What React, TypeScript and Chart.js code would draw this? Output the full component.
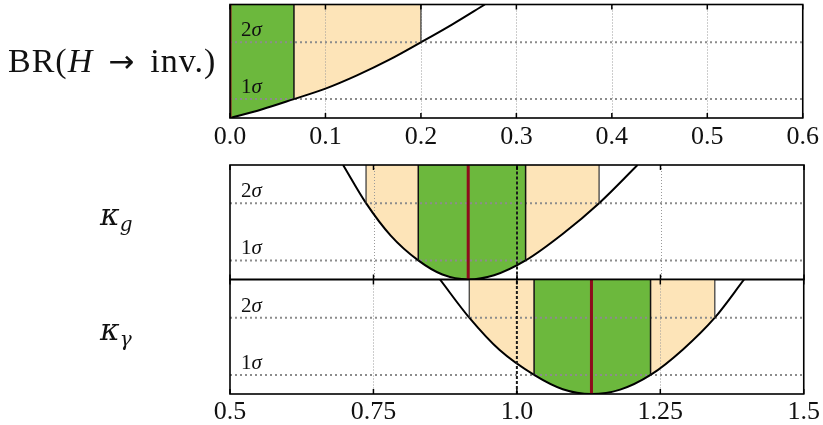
import React, { useEffect, useRef } from 'react';
import { Chart, registerables } from 'chart.js';

Chart.register(...registerables);

// ---------- data ----------
const Y_MAX = 6;
const SIGMA_LEVELS = [1, 4];
const SIGMA_NUMS = ['1', '2'];
const SIGMA_SYMBOL = 'σ';

const BR_TICKS = [0, 0.1, 0.2, 0.3, 0.4, 0.5, 0.6];
const BR_TICK_LABELS = ['0.0', '0.1', '0.2', '0.3', '0.4', '0.5', '0.6'];
const BR_X = [0, 0.033, 0.067, 0.1, 0.133, 0.167, 0.2, 0.233, 0.267];
const BR_CHI2 = [0, 0.45, 1.0, 1.55, 2.25, 3.08, 4.0, 4.95, 6.0];
const BR_BEST = 0;
const BR_1SIGMA = [0, 0.067];
const BR_2SIGMA = [0, 0.2];

const KAPPA_TICKS = [0.5, 0.75, 1.0, 1.25, 1.5];
const KAPPA_TICK_LABELS = ['0.5', '0.75', '1.0', '1.25', '1.5'];
const KAPPA_SM = 1.0;

const KG_X = [0.697, 0.737, 0.78, 0.828, 0.87, 0.915, 0.96, 1.015, 1.08, 1.143, 1.21];
const KG_CHI2 = [6, 4, 2.3, 1, 0.26, 0, 0.22, 1, 2.4, 4, 6];
const KG_BEST = 0.915;
const KG_1SIGMA = [0.828, 1.015];
const KG_2SIGMA = [0.737, 1.143];

const KGAM_X = [0.866, 0.917, 0.97, 1.03, 1.08, 1.13, 1.18, 1.233, 1.29, 1.345, 1.396];
const KGAM_CHI2 = [6, 4, 2.3, 1, 0.25, 0, 0.23, 1, 2.35, 4, 6];
const KGAM_BEST = 1.13;
const KGAM_1SIGMA = [1.03, 1.233];
const KGAM_2SIGMA = [0.917, 1.345];

// ---------- styles ----------
const GREEN = '#6cb83d';
const ORANGE = '#fde4b8';
const RED = '#8e0c1c';
const CLEAR = 'rgba(0,0,0,0)';
const TICK_FONT = 'Liberation Serif';

type Spec = {
  xs: number[];
  chi2: number[];
  best: number;
  s1: number[];
  s2: number[];
  ticks: number[];
  tickLabels: string[] | null;
  sm: number | null;
  padding: { top: number; bottom: number; left: number; right: number };
  axisHeight: number;
  labelPad: number;
  sigmaDx: number;
};

function makeConfig(p: Spec): any {
  const xmin = p.ticks[0];
  const xmax = p.ticks[p.ticks.length - 1];
  const curve = p.xs.map((x, i) => ({ x, y: p.chi2[i] }));
  const chiAt = (x: number) => p.chi2[p.xs.indexOf(x)];
  const vline = (x: number, y0: number, color: string, width: number, dash: number[] = []) => ({
    data: [{ x, y: y0 }, { x, y: Y_MAX }],
    borderColor: color,
    borderWidth: width,
    borderDash: dash,
    fill: false,
  });

  const datasets: any[] = [];
  datasets.push(vline(p.best, 0, RED, 3));
  if (p.sm !== null) datasets.push(vline(p.sm, 0, '#1a1a1a', 2, [3, 2]));
  p.s1.forEach((x) => {
    if (x !== p.best && x !== xmin) datasets.push(vline(x, chiAt(x), '#111', 1.5));
  });
  p.s2.forEach((x) => {
    if (p.s1.indexOf(x) < 0 && x !== xmin) datasets.push(vline(x, chiAt(x), '#333', 1.2));
  });
  datasets.push({
    data: curve,
    borderColor: '#000',
    borderWidth: 2,
    cubicInterpolationMode: 'monotone',
    fill: 'end',
    backgroundColor: CLEAR,
    segment: {
      backgroundColor: (ctx: any) => {
        const xm = (ctx.p0.parsed.x + ctx.p1.parsed.x) / 2;
        if (xm >= p.s1[0] && xm <= p.s1[1]) return GREEN;
        if (xm >= p.s2[0] && xm <= p.s2[1]) return ORANGE;
        return CLEAR;
      },
    },
  });
  SIGMA_LEVELS.forEach((lvl) =>
    datasets.push({
      data: [{ x: xmin, y: lvl }, { x: xmax, y: lvl }],
      borderColor: '#8c8c8c',
      borderWidth: 2,
      borderDash: [2, 3],
      fill: false,
    })
  );

  const decor = {
    id: 'decor',
    beforeDatasetsDraw(chart: any) {
      const { ctx, chartArea: a, scales } = chart;
      const x = scales.x;
      ctx.save();
      ctx.strokeStyle = '#9a9a9a';
      ctx.lineWidth = 1;
      ctx.setLineDash([1, 2]);
      p.ticks.slice(1, -1).forEach((v) => {
        if (v === p.sm) return;
        const px = Math.round(x.getPixelForValue(v)) + 0.5;
        ctx.beginPath();
        ctx.moveTo(px, a.top);
        ctx.lineTo(px, a.bottom);
        ctx.stroke();
      });
      ctx.restore();
    },
    afterDatasetsDraw(chart: any) {
      const { ctx, chartArea: a, scales } = chart;
      const x = scales.x;
      const y = scales.y;
      ctx.save();
      ctx.fillStyle = '#111';
      ctx.textBaseline = 'alphabetic';
      SIGMA_LEVELS.forEach((lvl, i) => {
        const by = y.getPixelForValue(lvl) - 6;
        let tx = a.left + p.sigmaDx;
        ctx.font = `21px "${TICK_FONT}"`;
        ctx.fillText(SIGMA_NUMS[i], tx, by);
        tx += ctx.measureText(SIGMA_NUMS[i]).width;
        ctx.font = `italic 21px "${TICK_FONT}"`;
        ctx.fillText(SIGMA_SYMBOL, tx, by);
      });
      ctx.strokeStyle = '#000';
      ctx.lineWidth = 1.5;
      p.ticks.forEach((v) => {
        const px = x.getPixelForValue(v);
        ctx.beginPath();
        ctx.moveTo(px, a.top);
        ctx.lineTo(px, a.top + 5);
        ctx.moveTo(px, a.bottom - 5);
        ctx.lineTo(px, a.bottom);
        ctx.stroke();
      });
      ctx.lineWidth = 1.6;
      ctx.strokeRect(a.left, a.top, a.right - a.left, a.bottom - a.top);
      ctx.restore();
    },
  };

  return {
    type: 'line',
    data: { datasets },
    options: {
      responsive: false,
      animation: false,
      events: [],
      layout: { padding: p.padding },
      plugins: {
        legend: { display: false },
        tooltip: { enabled: false },
        filler: { drawTime: 'beforeDatasetsDraw' },
      },
      elements: { point: { radius: 0 }, line: { tension: 0 } },
      scales: {
        x: {
          type: 'linear',
          min: xmin,
          max: xmax,
          display: p.tickLabels !== null,
          grid: { display: false, drawTicks: false },
          border: { display: false },
          ticks: {
            autoSkip: false,
            maxRotation: 0,
            padding: p.labelPad,
            color: '#111',
            font: { family: TICK_FONT, size: 26 },
            callback: (_v: any, i: number) => (p.tickLabels ? p.tickLabels[i] : ''),
          },
          afterBuildTicks: (s: any) => {
            s.ticks = p.ticks.map((v) => ({ value: v }));
          },
          afterFit: (s: any) => {
            s.height = p.axisHeight;
          },
        },
        y: { type: 'linear', min: 0, max: Y_MAX, display: false },
      },
    },
    plugins: [decor],
  };
}

const SPEC_BR: Spec = {
  xs: BR_X, chi2: BR_CHI2, best: BR_BEST, s1: BR_1SIGMA, s2: BR_2SIGMA,
  ticks: BR_TICKS, tickLabels: BR_TICK_LABELS, sm: null,
  padding: { top: 4.5, bottom: 0, left: 230, right: 19 }, axisHeight: 32, labelPad: 4, sigmaDx: 11,
};
const SPEC_KG: Spec = {
  xs: KG_X, chi2: KG_CHI2, best: KG_BEST, s1: KG_1SIGMA, s2: KG_2SIGMA,
  ticks: KAPPA_TICKS, tickLabels: null, sm: KAPPA_SM,
  padding: { top: 10, bottom: 5.5, left: 230, right: 19 }, axisHeight: 0, labelPad: 0, sigmaDx: 11,
};
const SPEC_KGAM: Spec = {
  xs: KGAM_X, chi2: KGAM_CHI2, best: KGAM_BEST, s1: KGAM_1SIGMA, s2: KGAM_2SIGMA,
  ticks: KAPPA_TICKS, tickLabels: KAPPA_TICK_LABELS, sm: KAPPA_SM,
  padding: { top: 9.5, bottom: 0, left: 230, right: 19 }, axisHeight: 31, labelPad: 3, sigmaDx: 11,
};

function Panel({ spec, top, height }: { spec: Spec; top: number; height: number }) {
  const ref = useRef<HTMLCanvasElement>(null);
  useEffect(() => {
    const chart = new Chart(ref.current as HTMLCanvasElement, makeConfig(spec));
    return () => chart.destroy();
  }, [spec]);
  return (
    <canvas
      ref={ref}
      width={823}
      height={height}
      style={{ position: 'absolute', left: 0, top, width: 823, height }}
    />
  );
}

const kappaStyle = {
  position: 'absolute' as const,
  left: 100,
  font: 'italic 30px "DejaVu Serif"',
  lineHeight: '30px',
  whiteSpace: 'nowrap' as const,
  color: '#111',
};

export default function App() {
  return (
    <div style={{ position: 'absolute', left: 0, top: 0, width: 823, height: 425, background: '#fff', overflow: 'hidden' }}>
      <Panel spec={SPEC_BR} top={0} height={150} />
      <Panel spec={SPEC_KG} top={155} height={130} />
      <Panel spec={SPEC_KGAM} top={270} height={155} />
      <div
        style={{
          position: 'absolute', left: 8, top: 44, font: `34px "${TICK_FONT}"`, lineHeight: '33px',
          whiteSpace: 'nowrap', color: '#111', letterSpacing: '1px',
        }}
      >
        BR(<i>H</i>
        <span style={{ margin: '0 15px', fontFamily: '"DejaVu Sans"', fontSize: 31 }}>→</span>inv.)
      </div>
      <div style={{ ...kappaStyle, top: 200 }}>
        κ<span style={{ fontSize: 20, position: 'relative', top: 6 }}>g</span>
      </div>
      <div style={{ ...kappaStyle, top: 315 }}>
        κ<span style={{ fontSize: 20, position: 'relative', top: 6 }}>γ</span>
      </div>
    </div>
  );
}
